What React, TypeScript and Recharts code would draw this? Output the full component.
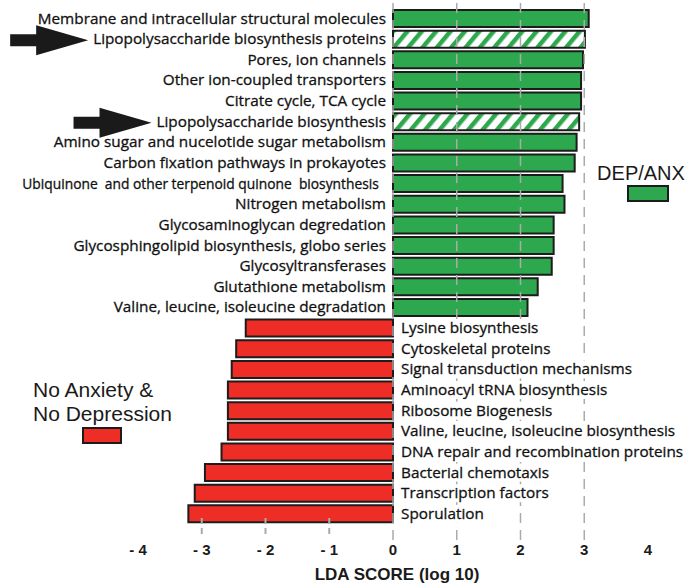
import React from 'react';
import { BarChart, Bar, XAxis, YAxis, Cell, LabelList, ReferenceLine } from 'recharts';

// pathways, top to bottom
const pathways = [
  'Membrane and intracellular structural molecules',
  'Lipopolysaccharide biosynthesis proteins',
  'Pores, ion channels',
  'Other ion-coupled transporters',
  'Citrate cycle, TCA cycle',
  'Lipopolysaccharide biosynthesis',
  'Amino sugar and nucelotide sugar metabolism',
  'Carbon fixation pathways in prokayotes',
  'Ubiquinone  and other terpenoid quinone  biosynthesis  ',
  'Nitrogen metabolism',
  'Glycosaminoglycan degredation',
  'Glycosphingolipid biosynthesis, globo series',
  'Glycosyltransferases',
  'Glutathione metabolism',
  'Valine, leucine, isoleucine degradation',
  'Lysine biosynthesis',
  'Cytoskeletal proteins',
  'Signal transduction mechanisms',
  'Aminoacyl tRNA biosynthesis',
  'Ribosome Biogenesis',
  'Valine, leucine, isoleucine biosynthesis',
  'DNA repair and recombination proteins',
  'Bacterial chemotaxis',
  'Transcription factors',
  'Sporulation',
];

const ldaScores = [
  3.07, 3.01, 2.98, 2.95, 2.95, 2.92, 2.88, 2.85, 2.66, 2.69, 2.52, 2.52, 2.49, 2.27, 2.11,
  -2.31, -2.46, -2.53, -2.59, -2.59, -2.59, -2.69, -2.95, -3.11, -3.21,
];

const hatchedPathways = ['Lipopolysaccharide biosynthesis proteins', 'Lipopolysaccharide biosynthesis'];
const smallLabelPathways = ['Ubiquinone  and other terpenoid quinone  biosynthesis  '];

const xTicks = [-4, -3, -2, -1, 0, 1, 2, 3, 4];
const gridValues = [0, 1, 2, 3];
const shortTickValues = [-3, -2, -1];

const groupLabels = ['DEP/ANX', 'No Anxiety &', 'No Depression'];
const axisTitle = 'LDA SCORE (log 10)';

const GREEN = '#2da84e';
const RED = '#ee2d27';
const EDGE = '#1c1c1c';
const GRID = '#ababab';
const LABEL_FAMILY = "'Open Sans', 'Noto Sans', sans-serif";
const LABEL_WEIGHT = 500;
const ARIAL = "'Liberation Sans', Arial, sans-serif";

const rows = pathways.map((name, i) => ({ name, score: ldaScores[i] }));

let ctx: CanvasRenderingContext2D | null = null;
function textWidth(text: string, size: number) {
  if (!ctx) ctx = document.createElement('canvas').getContext('2d');
  if (!ctx) return text.length * size * 0.5;
  ctx.font = `${LABEL_WEIGHT} ${size}px ${LABEL_FAMILY}`;
  return ctx.measureText(text).width;
}

function Arrow({ tip, cy }: { tip: number; cy: number }) {
  const len = 78;
  const head = 52;
  const hh = 15;
  const sh = 6;
  const pts = [
    [tip - len, cy - sh],
    [tip - head, cy - sh],
    [tip - head, cy - hh],
    [tip, cy],
    [tip - head, cy + hh],
    [tip - head, cy + sh],
    [tip - len, cy + sh],
  ]
    .map((p) => p.join(','))
    .join(' ');
  return <polygon points={pts} fill="#1a1a1a" />;
}

function PathwayLabel(props: any) {
  const vb = props.viewBox ?? props;
  const { x, y, width, height } = vb;
  const row = rows.find((r) => r.name === props.value);
  if (!row) return null;
  const zeroX = row.score >= 0 ? x : width < 0 ? x : x + width;
  const cy = y + height / 2;
  const size = smallLabelPathways.includes(row.name) ? 13.8 : 15.3;
  const w = textWidth(row.name, size);
  const textProps = {
    fontSize: size,
    fontWeight: LABEL_WEIGHT,
    fontFamily: LABEL_FAMILY,
    fill: '#111',
    stroke: '#111',
    strokeWidth: 0.3,
    style: { whiteSpace: 'pre' as const },
  };

  if (row.score >= 0) {
    const endX = zeroX - 7;
    return (
      <g>
        {hatchedPathways.includes(row.name) && <Arrow tip={endX - w - 5} cy={cy + 1} />}
        <text x={endX} y={cy + 5} textAnchor="end" {...textProps}>
          {row.name}
        </text>
      </g>
    );
  }
  const startX = zeroX + 8;
  return (
    <g>
      <rect x={startX - 2} y={cy - 9} width={w + 5} height={18} fill="#fff" />
      <text x={startX} y={cy + 5} {...textProps}>
        {row.name}
      </text>
    </g>
  );
}

function LdaTick(props: any) {
  const { x, y, payload } = props;
  const v = payload.value as number;
  return (
    <g>
      {shortTickValues.includes(v) && (
        <line x1={x} x2={x} y1={y - 22} y2={y - 6} stroke={GRID} strokeWidth={2} strokeDasharray="6 4" />
      )}
      <text x={x} y={y + 15} textAnchor="middle" fontSize={15} fontWeight="bold" fontFamily={ARIAL} fill="#1a1a1a">
        {v < 0 ? `- ${-v}` : `${v}`}
      </text>
    </g>
  );
}

function AxisTitle(props: any) {
  const vb = props.viewBox ?? {};
  const cx = (vb.x ?? 0) + (vb.width ?? 0) / 2;
  return (
    <text x={cx + 4} y={580} textAnchor="middle" fontSize={17} fontWeight="bold" fontFamily={ARIAL} fill="#1a1a1a">
      {axisTitle}
    </text>
  );
}

export default function App() {
  return (
    <div style={{ position: 'absolute', left: 0, top: 0, width: 689, height: 585, background: '#fff' }}>
      <BarChart
        width={689}
        height={585}
        data={rows}
        layout="vertical"
        margin={{ top: 0, right: 41, bottom: 0, left: 138 }}
      >
        <defs>
          <pattern
            id="lpsHatch"
            patternUnits="userSpaceOnUse"
            width={11}
            height={11}
            patternTransform="rotate(40)"
          >
            <rect width={11} height={11} fill="#fff" />
            <rect width={4.5} height={11} fill={GREEN} />
          </pattern>
        </defs>
        <XAxis
          type="number"
          domain={[-4, 4]}
          ticks={xTicks}
          axisLine={false}
          tickLine={false}
          tickSize={0}
          tickMargin={0}
          height={45}
          tick={<LdaTick />}
          label={<AxisTitle />}
        />
        <YAxis type="category" dataKey="name" hide padding={{ top: 8, bottom: 16 }} />
        {gridValues.map((v) => (
          <ReferenceLine key={v} x={v} stroke={GRID} strokeWidth={1.5} strokeDasharray="10 7" />
        ))}
        <Bar dataKey="score" barSize={17} stroke={EDGE} strokeWidth={2} isAnimationActive={false}>
          {rows.map((r) => (
            <Cell
              key={r.name}
              fill={hatchedPathways.includes(r.name) ? 'url(#lpsHatch)' : r.score >= 0 ? GREEN : RED}
            />
          ))}
          <LabelList dataKey="name" content={<PathwayLabel />} />
        </Bar>
      </BarChart>
      <svg
        width={689}
        height={585}
        style={{ position: 'absolute', left: 0, top: 0, pointerEvents: 'none' }}
      >
        <text x={641} y={180} textAnchor="middle" fontSize={20} fontFamily={ARIAL} fill="#1a1a1a">
          {groupLabels[0]}
        </text>
        <rect x={628} y={186} width={40} height={15} fill={GREEN} stroke={EDGE} strokeWidth={2} />
        <text x={33} y={397} fontSize={21} fontFamily={ARIAL} fill="#1a1a1a">
          {groupLabels[1]}
        </text>
        <text x={33} y={421} fontSize={21} fontFamily={ARIAL} fill="#1a1a1a">
          {groupLabels[2]}
        </text>
        <rect x={83} y={428} width={38} height={15} fill={RED} stroke={EDGE} strokeWidth={2} />
      </svg>
    </div>
  );
}
